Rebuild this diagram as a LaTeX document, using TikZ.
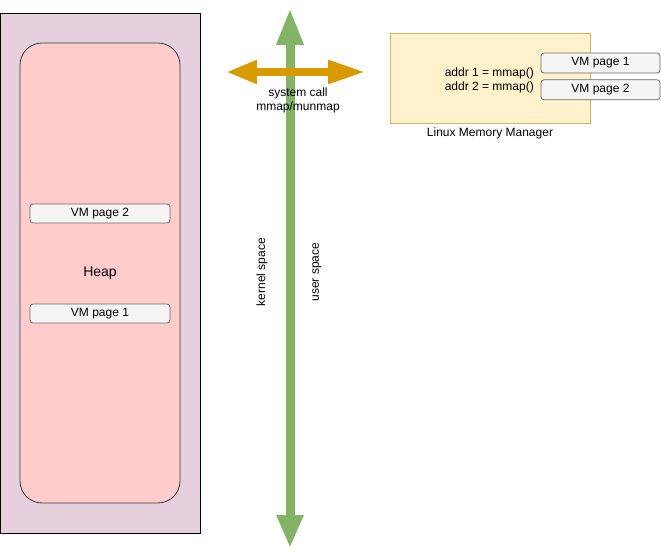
\documentclass[tikz,border=0pt]{standalone}
\usepackage{fontspec}
\setmainfont{Liberation Sans}
\usepackage{tikz}
\usetikzlibrary{arrows.meta, positioning}
\definecolor{outerfill}{HTML}{E6D0DE}
\definecolor{heapfill}{HTML}{FFCCCC}
\definecolor{heapline}{HTML}{36393D}
\definecolor{pagefill}{HTML}{F5F5F5}
\definecolor{pageline}{HTML}{666666}
\definecolor{lmmfill}{HTML}{FFF2CC}
\definecolor{lmmline}{HTML}{D6B656}
\definecolor{spacegreen}{HTML}{82B366}
\definecolor{calloran}{HTML}{D79B00}
\tikzstyle{outerbox} = [rectangle, minimum width=200pt, minimum height=520pt, draw=black, fill=outerfill, line width=0.8pt]
\tikzstyle{heapbox} = [rectangle, rounded corners=22pt, minimum width=160pt, minimum height=460pt, draw=heapline, fill=heapfill, line width=0.8pt, font=\fontsize{14}{16}\selectfont]
\tikzstyle{vmpage} = [rectangle, rounded corners=3pt, minimum width=140pt, minimum height=19pt, inner sep=0pt, draw=pageline, fill=pagefill, line width=0.8pt, font=\fontsize{12}{14}\selectfont]
\tikzstyle{lmmbox} = [rectangle, minimum width=200pt, minimum height=90pt, draw=lmmline, fill=lmmfill, line width=0.8pt]
\tikzstyle{txt} = [inner sep=0pt, font=\fontsize{12}{14}\selectfont]
\tikzstyle{greenarrow} = [line width=9pt, draw=spacegreen, {Triangle[width=25pt,length=33pt]}-{Triangle[width=25pt,length=37pt]}]
\tikzstyle{orangearrow} = [line width=8.5pt, draw=calloran, {Triangle[width=22pt,length=31pt]}-{Triangle[width=22pt,length=38pt]}]

\begin{document}
\begin{tikzpicture}[x=1pt, y=-1pt]
\useasboundingbox (0,0) rectangle (661,557);
% user process side
\node (outer) [outerbox] at (100,273) {};
\node (heap) [heapbox] at (100,273) {Heap};
\node (pg2) [vmpage] at (100,213.5) {VM page 2};
\node (pg1) [vmpage] at (100,313.5) {VM page 1};

% kernel side
\node (lmm) [lmmbox, label={[txt, label distance=4pt]below:Linux Memory Manager}] at (490,78) {};
\node (addr) [txt, align=right, anchor=east] at (534,80) {addr 1 = mmap()\\addr 2 = mmap()};
\node (lpg1) [vmpage, minimum width=119pt, minimum height=20pt] at (600.5,63) {VM page 1};
\node (lpg2) [vmpage, minimum width=119pt, minimum height=20pt, below=6pt of lpg1] {VM page 2};

% boundary and system call
\coordinate (gtop) at (290,8);
\coordinate (gbot) at (290,548);
\coordinate (oleft) at (226,72);
\coordinate (oright) at (366,72);
\draw [greenarrow] (gbot) -- (gtop);
\draw [orangearrow] (oleft) -- (oright);
\node (call) [txt, align=center] at (298,100) {system call\\mmap/munmap};
\node (kspace) [txt, rotate=90] at (262,272) {kernel space};
\node (uspace) [txt, rotate=90] at (317,272) {user space};
\end{tikzpicture}
\end{document}
